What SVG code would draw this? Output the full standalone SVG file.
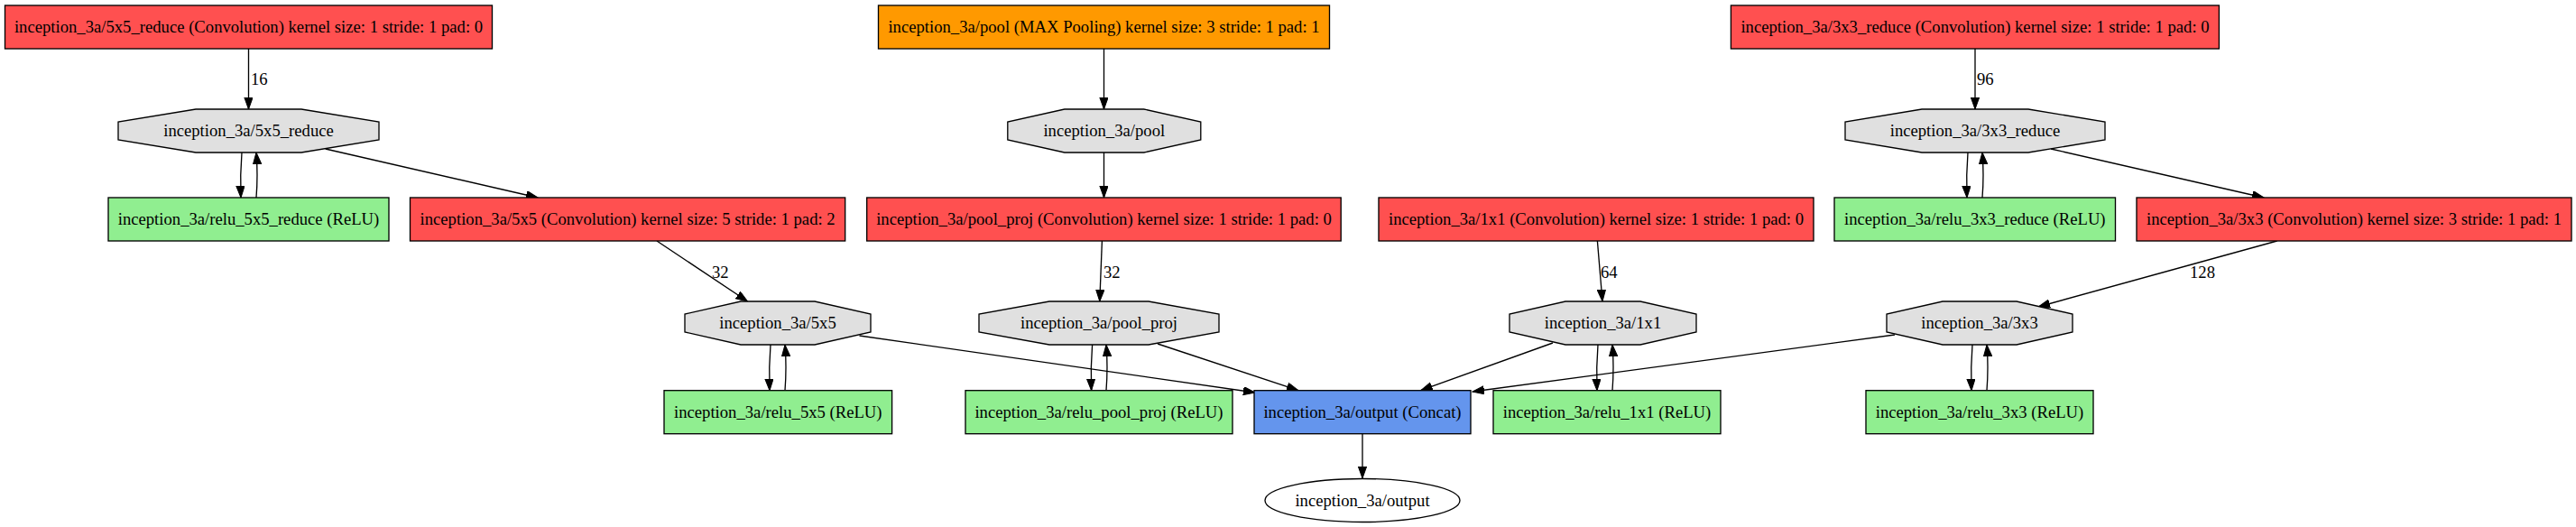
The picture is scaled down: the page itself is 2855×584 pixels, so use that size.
<svg xmlns="http://www.w3.org/2000/svg" width="2855" height="584" viewBox="0 0 2855 584">
<style>
text{font-family:"Liberation Serif","Times New Roman",serif;font-size:18.67px;fill:#000}
.n text{text-anchor:middle}
.conv{fill:#FF5050;stroke:#000;stroke-width:1.33}
.pool{fill:#FF9900;stroke:#000;stroke-width:1.33}
.relu{fill:#90EE90;stroke:#000;stroke-width:1.33}
.cat{fill:#6495ED;stroke:#000;stroke-width:1.33}
.blob{fill:#E0E0E0;stroke:#000;stroke-width:1.33}
.out{fill:#fff;stroke:#000;stroke-width:1.33}
#edges path{fill:none;stroke:#000;stroke-width:1.33;marker-end:url(#ah)}
</style>
<defs>
<marker id="ah" markerUnits="userSpaceOnUse" markerWidth="14" markerHeight="10" refX="13" refY="4.65" orient="auto">
<path d="M0,0 L13,4.65 L0,9.3 z" fill="#000" stroke="#000" stroke-width="1"/>
</marker>
</defs>
<rect width="2855" height="584" fill="#fff"/>
<g id="edges">
<path d="M275.5,54 L275.5,121"/>
<path d="M1223.5,54 L1223.5,121"/>
<path d="M2189,54 L2189,121"/>
<path d="M268,169 Q266,194 267,219"/>
<path d="M284,219 Q286,194 284,169"/>
<path d="M360.7,165 L596,219"/>
<path d="M1223.5,169 L1223.5,219"/>
<path d="M2181,169 Q2179,194 2180,219"/>
<path d="M2197,219 Q2199,194 2197,169"/>
<path d="M2273,165 L2509,219"/>
<path d="M728,267 L828.5,334"/>
<path d="M1221.4,267 L1218.8,334"/>
<path d="M1770.4,267 L1776,334"/>
<path d="M2523.7,267 L2259,340"/>
<path d="M854,382 Q852,407 853,432.7"/>
<path d="M870,432.7 Q872,407 870,382"/>
<path d="M1210.6,382 Q1208.6,407 1209.6,432.7"/>
<path d="M1226,432.7 Q1228,407 1226,382"/>
<path d="M1771,382 Q1769,407 1770,432.7"/>
<path d="M1787,432.7 Q1789,407 1787,382"/>
<path d="M2186,382 Q2184,407 2185,432.7"/>
<path d="M2202,432.7 Q2204,407 2202,382"/>
<path d="M952.5,372 L1391,435"/>
<path d="M1283,381 L1439,432.7"/>
<path d="M1721,380 L1574.6,432.7"/>
<path d="M2100,371 L1632,434"/>
<path d="M1510,481 L1510,530"/>
<text x="278" y="94">16</text>
<text x="2191" y="94">96</text>
<text x="789" y="308">32</text>
<text x="1223" y="308">32</text>
<text x="1774" y="308">64</text>
<text x="2427" y="308">128</text>
</g>
<g id="conv_5x5_reduce" class="n"><rect class="conv" x="5.5" y="6" width="540" height="48"/><text x="275.5" y="36">inception_3a/5x5_reduce (Convolution) kernel size: 1 stride: 1 pad: 0</text></g>
<g id="pool" class="n"><rect class="pool" x="973.5" y="6" width="500" height="48"/><text x="1223.5" y="36">inception_3a/pool (MAX Pooling) kernel size: 3 stride: 1 pad: 1</text></g>
<g id="conv_3x3_reduce" class="n"><rect class="conv" x="1918.4" y="6" width="541" height="48"/><text x="2189" y="36">inception_3a/3x3_reduce (Convolution) kernel size: 1 stride: 1 pad: 0</text></g>
<g id="blob_5x5_reduce" class="n"><polygon class="blob" points="217,121 334,121 420,135 420,155 334,169 217,169 131,155 131,135"/><text x="275.5" y="151">inception_3a/5x5_reduce</text></g>
<g id="blob_pool" class="n"><polygon class="blob" points="1179.8,121 1267.8,121 1330.8,135 1330.8,155 1267.8,169 1179.8,169 1116.8,155 1116.8,135"/><text x="1223.8" y="151">inception_3a/pool</text></g>
<g id="blob_3x3_reduce" class="n"><polygon class="blob" points="2130,121 2248,121 2333,135 2333,155 2248,169 2130,169 2045,155 2045,135"/><text x="2189" y="151">inception_3a/3x3_reduce</text></g>
<g id="relu_5x5_reduce" class="n"><rect class="relu" x="120" y="219" width="311" height="48"/><text x="275.5" y="249">inception_3a/relu_5x5_reduce (ReLU)</text></g>
<g id="conv_5x5" class="n"><rect class="conv" x="454.5" y="219" width="482.2" height="48"/><text x="695.6" y="249">inception_3a/5x5 (Convolution) kernel size: 5 stride: 1 pad: 2</text></g>
<g id="conv_pool_proj" class="n"><rect class="conv" x="960.7" y="219" width="525.5" height="48"/><text x="1223.5" y="249">inception_3a/pool_proj (Convolution) kernel size: 1 stride: 1 pad: 0</text></g>
<g id="conv_1x1" class="n"><rect class="conv" x="1528" y="219" width="482" height="48"/><text x="1769" y="249">inception_3a/1x1 (Convolution) kernel size: 1 stride: 1 pad: 0</text></g>
<g id="relu_3x3_reduce" class="n"><rect class="relu" x="2033" y="219" width="311.5" height="48"/><text x="2188.8" y="249">inception_3a/relu_3x3_reduce (ReLU)</text></g>
<g id="conv_3x3" class="n"><rect class="conv" x="2368" y="219" width="482" height="48"/><text x="2609" y="249">inception_3a/3x3 (Convolution) kernel size: 3 stride: 1 pad: 1</text></g>
<g id="blob_5x5" class="n"><polygon class="blob" points="821,334 903,334 965,348 965,368 903,382 821,382 759,368 759,348"/><text x="862" y="364">inception_3a/5x5</text></g>
<g id="blob_pool_proj" class="n"><polygon class="blob" points="1163,334 1273,334 1351,348 1351,368 1273,382 1163,382 1085,368 1085,348"/><text x="1218" y="364">inception_3a/pool_proj</text></g>
<g id="blob_1x1" class="n"><polygon class="blob" points="1735,334 1818,334 1880,348 1880,368 1818,382 1735,382 1673,368 1673,348"/><text x="1776.5" y="364">inception_3a/1x1</text></g>
<g id="blob_3x3" class="n"><polygon class="blob" points="2153,334 2235,334 2297,348 2297,368 2235,382 2153,382 2091,368 2091,348"/><text x="2194" y="364">inception_3a/3x3</text></g>
<g id="relu_5x5" class="n"><rect class="relu" x="736" y="432.7" width="252.6" height="48"/><text x="862.3" y="462.7">inception_3a/relu_5x5 (ReLU)</text></g>
<g id="relu_pool_proj" class="n"><rect class="relu" x="1070" y="432.7" width="296" height="48"/><text x="1218" y="462.7">inception_3a/relu_pool_proj (ReLU)</text></g>
<g id="concat" class="n"><rect class="cat" x="1390" y="432.7" width="240" height="48"/><text x="1510" y="462.7">inception_3a/output (Concat)</text></g>
<g id="relu_1x1" class="n"><rect class="relu" x="1655" y="432.7" width="252" height="48"/><text x="1781" y="462.7">inception_3a/relu_1x1 (ReLU)</text></g>
<g id="relu_3x3" class="n"><rect class="relu" x="2068" y="432.7" width="252" height="48"/><text x="2194" y="462.7">inception_3a/relu_3x3 (ReLU)</text></g>
<g id="output" class="n"><ellipse class="out" cx="1510" cy="554.5" rx="108" ry="24"/><text x="1510" y="560.5">inception_3a/output</text></g>
</svg>
